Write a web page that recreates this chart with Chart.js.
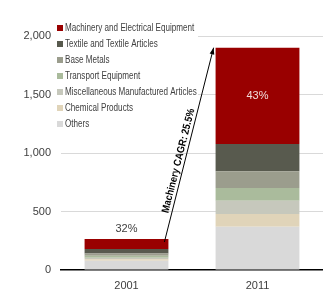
<!DOCTYPE html>
<html lang="en">
    <head>
        <meta charset="UTF-8" />
        <title>Exports by Category</title>
        <script src="https://cdn.jsdelivr.net/npm/chart.js"></script>
        <style>
            html,
            body {
                margin: 0;
                background: #ffffff;
            }
            .chart-box {
                width: 323px;
                height: 298px;
            }
        </style>
    </head>
    <body>
        <div class="chart-box"><canvas id="exportChart"></canvas></div>
        <script>
            const years = ["2001", "2011"];
            const yTicks = [0, 500, 1000, 1500, 2000];

            // stacked bottom to top
            const others = [80, 370];
            const chemical = [11, 109];
            const miscManufactured = [14, 113];
            const transport = [17, 109];
            const baseMetals = [20, 142];
            const textile = [38, 234];
            const machinery = [85, 823];

            const cagrLabel = "Machinery CAGR: 25.5%";

            const series = [
                { label: "Others", data: others, color: "#d9d9d9" },
                { label: "Chemical Products", data: chemical, color: "#e0d4b9" },
                { label: "Miscellaneous Manufactured Articles", data: miscManufactured, color: "#c6c8bc" },
                { label: "Transport Equipment", data: transport, color: "#aabb9c" },
                { label: "Base Metals", data: baseMetals, color: "#9b9d8d" },
                { label: "Textile and Textile Articles", data: textile, color: "#585a4e" },
                { label: "Machinery and Electrical Equipment", data: machinery, color: "#990000" },
            ];

            const totals = years.map((y, i) =>
                series.reduce((s, d) => s + d.data[i], 0)
            );

            const sans = "'Liberation Sans', Arial, sans-serif";

            // the original uses a condensed face, squeeze regular text instead
            function narrowText(ctx, text, x, y, squeeze) {
                ctx.save();
                ctx.translate(x, y);
                ctx.scale(squeeze, 1);
                ctx.fillText(text, 0, 0);
                ctx.restore();
            }

            // legend, arrow and percentage labels
            const overlay = {
                id: "overlay",
                afterDatasetsDraw(chart) {
                    const ctx = chart.ctx;
                    const ys = chart.scales.y;
                    const topMeta = chart.getDatasetMeta(series.length - 1);

                    // legend box
                    ctx.save();
                    ctx.fillStyle = "#ffffff";
                    ctx.fillRect(55, 20, 143, 112);
                    ctx.font = "10px " + sans;
                    ctx.textBaseline = "middle";
                    ctx.textAlign = "left";
                    const legendItems = series.slice().reverse();
                    legendItems.forEach((s, i) => {
                        const y = 28 + i * 16;
                        ctx.fillStyle = s.color;
                        ctx.fillRect(57, y - 3, 6, 6);
                        ctx.fillStyle = "#404040";
                        narrowText(ctx, s.label, 65, y, 0.81);
                    });
                    ctx.restore();

                    // percentage labels
                    ctx.save();
                    ctx.font = "11px " + sans;
                    ctx.textAlign = "center";
                    ctx.textBaseline = "middle";
                    const bar0 = topMeta.data[0];
                    const pct0 = Math.round((machinery[0] / totals[0]) * 100) + "%";
                    ctx.fillStyle = "#404040";
                    ctx.fillText(pct0, bar0.x, bar0.y - 10);
                    const bar1 = topMeta.data[1];
                    const pct1 = Math.round((machinery[1] / totals[1]) * 100) + "%";
                    ctx.fillStyle = "#f2dcdb";
                    ctx.fillText(pct1, bar1.x, (bar1.y + bar1.base) / 2);
                    ctx.restore();

                    // CAGR arrow
                    const x1 = bar0.x + bar0.width / 2 - 4;
                    const y1 = ys.getPixelForValue(totals[0]) + 3;
                    const x2 = bar1.x - bar1.width / 2 - 2;
                    const y2 = ys.getPixelForValue(totals[1]);
                    const ang = Math.atan2(y2 - y1, x2 - x1);
                    ctx.save();
                    ctx.strokeStyle = "#000000";
                    ctx.fillStyle = "#000000";
                    ctx.lineWidth = 1;
                    ctx.beginPath();
                    ctx.moveTo(x1, y1);
                    ctx.lineTo(x2, y2);
                    ctx.stroke();
                    ctx.beginPath();
                    ctx.moveTo(x2, y2);
                    ctx.lineTo(x2 - 7 * Math.cos(ang - 0.35), y2 - 7 * Math.sin(ang - 0.35));
                    ctx.lineTo(x2 - 7 * Math.cos(ang + 0.35), y2 - 7 * Math.sin(ang + 0.35));
                    ctx.closePath();
                    ctx.fill();

                    const f = 0.41;
                    ctx.translate(x1 + (x2 - x1) * f, y1 + (y2 - y1) * f);
                    ctx.rotate(ang);
                    ctx.font = "bold 10.5px " + sans;
                    ctx.textAlign = "center";
                    ctx.textBaseline = "bottom";
                    narrowText(ctx, cagrLabel, 0, -1, 0.88);
                    ctx.restore();
                },
            };

            new Chart(document.getElementById("exportChart"), {
                type: "bar",
                data: {
                    labels: years,
                    datasets: series.map((s) => ({
                        label: s.label,
                        data: s.data,
                        backgroundColor: s.color,
                        borderWidth: 0,
                        categoryPercentage: 1,
                        barPercentage: 0.64,
                    })),
                },
                options: {
                    responsive: true,
                    maintainAspectRatio: false,
                    animation: false,
                    layout: { padding: { top: 36, right: 0, left: 0, bottom: 0 } },
                    plugins: {
                        legend: { display: false },
                        tooltip: { enabled: false },
                    },
                    scales: {
                        x: {
                            stacked: true,
                            grid: { display: false, drawTicks: false },
                            border: { display: true, color: "#000000", width: 1.5 },
                            ticks: {
                                color: "#404040",
                                padding: 9,
                                font: { family: sans, size: 11 },
                            },
                            afterFit: (scale) => {
                                scale.height = 28;
                            },
                        },
                        y: {
                            stacked: true,
                            min: 0,
                            max: 2000,
                            afterBuildTicks: (scale) => {
                                scale.ticks = yTicks.map((v) => ({ value: v }));
                            },
                            grid: {
                                drawTicks: false,
                                color: (c) => (c.tick && c.tick.value === 0 ? "rgba(0,0,0,0)" : "#d9d9d9"),
                            },
                            border: { display: false },
                            ticks: {
                                color: "#404040",
                                padding: 10,
                                font: { family: sans, size: 11 },
                                callback: (v) => v.toLocaleString("en-US"),
                            },
                            afterFit: (scale) => {
                                scale.width = 61;
                            },
                        },
                    },
                },
                plugins: [overlay],
            });
        </script>
    </body>
</html>
